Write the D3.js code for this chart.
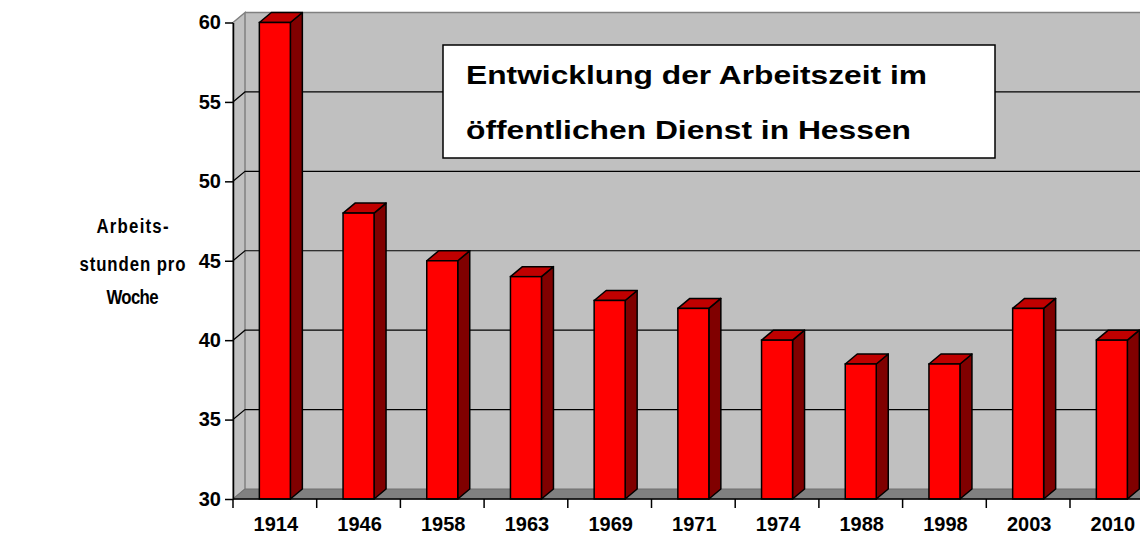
<!DOCTYPE html>
<html><head><meta charset="utf-8">
<script src="https://cdn.jsdelivr.net/npm/d3@7"></script>
<style>body{margin:0;background:#fff}svg{display:block;font-family:"Liberation Sans",Arial,sans-serif}</style>
</head><body>
<svg id="c" width="1140" height="535"></svg>
<script>
const categories = ["1914","1946","1958","1963","1969","1971","1974","1988","1998","2003","2010"];
const hours = [60,48,45,44,42.5,42,40,38.5,38.5,42,40];
const yTicks = [30,35,40,45,50,55,60];
const titleLines = ["Entwicklung der Arbeitszeit im","öffentlichen Dienst in Hessen"];
const yTitle = ["Arbeits-","stunden pro","Woche"];

const svg = d3.select("#c");
const x0 = 233, bandW = 83.7, right = 1140;
const dx = 12, dy = -10, barW = 31;
const x = d3.scaleBand().domain(categories).range([x0, x0 + bandW*categories.length]).paddingInner(0).paddingOuter(0);
const y = d3.scaleLinear().domain([30,60]).range([499,22.5]);
const yb = y(30), yt = y(60);

// back wall
svg.append("rect").attr("x",x0+dx).attr("y",yt+dy).attr("width",right-(x0+dx)).attr("height",yb-yt)
  .attr("fill","#c0c0c0");
// side wall
svg.append("path").attr("d",`M${x0},${yb}L${x0},${yt}L${x0+dx},${yt+dy}L${x0+dx},${yb+dy}Z`)
  .attr("fill","#c0c0c0").attr("stroke","#808080").attr("stroke-width",1.5);
// back wall top edge
svg.append("line").attr("x1",x0+dx).attr("x2",right).attr("y1",yt+dy).attr("y2",yt+dy).attr("stroke","#808080").attr("stroke-width",1.5);
// gridlines
yTicks.filter(v=>v>30 && v<60).forEach(v=>{
  svg.append("path").attr("d",`M${x0},${y(v)}L${x0+dx},${y(v)+dy}L${right},${y(v)+dy}`)
    .attr("fill","none").attr("stroke","#000").attr("stroke-width",1.2);
});
// floor
svg.append("path").attr("d",`M${x0},${yb}L${x0+dx},${yb+dy}L${right+20},${yb+dy}L${right+20},${yb}Z`)
  .attr("fill","#808080").attr("stroke","#707070").attr("stroke-width",1);

// bars
const g = svg.append("g");
categories.forEach((c,i)=>{
  const v = hours[i];
  const cx = x(c) + x.bandwidth()/2;
  const l = cx - barW/2, r = cx + barW/2, top = y(v);
  g.append("path").attr("d",`M${r},${yb}L${r},${top}L${r+dx},${top+dy}L${r+dx},${yb+dy}Z`)
    .attr("fill","#800000").attr("stroke","#000").attr("stroke-width",1.5).attr("stroke-linejoin","round");
  g.append("path").attr("d",`M${l},${top}L${l+dx},${top+dy}L${r+dx},${top+dy}L${r},${top}Z`)
    .attr("fill","#c00000").attr("stroke","#000").attr("stroke-width",1.5).attr("stroke-linejoin","round");
  g.append("rect").attr("x",l).attr("y",top).attr("width",barW).attr("height",yb-top)
    .attr("fill","#ff0000").attr("stroke","#000").attr("stroke-width",1.5);
});

// y axis
const yAxis = svg.append("g").attr("transform",`translate(${x0},0)`)
  .call(d3.axisLeft(y).tickValues(yTicks).tickSize(8).tickPadding(4).tickSizeOuter(0));
yAxis.select(".domain").attr("stroke","#000").attr("stroke-width",1.5);
yAxis.selectAll(".tick line").attr("stroke","#000").attr("stroke-width",1.5);
yAxis.selectAll("text").attr("font-size",20).attr("font-weight","bold").attr("fill","#000")
  .attr("font-family","Liberation Sans, Arial, sans-serif");

// x axis line and ticks
svg.append("line").attr("x1",x0).attr("x2",right).attr("y1",yb).attr("y2",yb).attr("stroke","#000").attr("stroke-width",1.5);
const bounds = categories.map(c=>x(c)).concat([x0+bandW*categories.length]);
bounds.forEach(b=>{
  if (b <= right) svg.append("line").attr("x1",b).attr("x2",b).attr("y1",yb).attr("y2",yb+9).attr("stroke","#000").attr("stroke-width",1.5);
});
svg.append("g").selectAll("text").data(categories).join("text")
  .attr("x",d=>x(d)+x.bandwidth()/2+1).attr("y",531).attr("text-anchor","middle")
  .attr("font-size",20).attr("font-weight","bold").text(d=>d);

// y title
const yTitleW = [72,106,52];
const yTitleY = [233,271,304];
const sx = 0.82;
svg.append("g").selectAll("text").data(yTitle).join("text")
  .attr("transform",(d,i)=>`translate(${132.5-yTitleW[i]/2},${yTitleY[i]}) scale(${sx},1)`)
  .attr("textLength",(d,i)=>yTitleW[i]/sx).attr("lengthAdjust","spacing")
  .attr("font-size",20.5).attr("font-weight","bold").text(d=>d);

// title box
svg.append("rect").attr("x",443).attr("y",45).attr("width",552).attr("height",113)
  .attr("fill","#fff").attr("stroke","#000").attr("stroke-width",1.5);
const titleW = [461,445];
svg.append("g").selectAll("text").data(titleLines).join("text")
  .attr("x",466).attr("y",(d,i)=>[84,139][i])
  .attr("textLength",(d,i)=>titleW[i]).attr("lengthAdjust","spacingAndGlyphs")
  .attr("font-size",26).attr("font-weight","bold").text(d=>d);
</script>
</body></html>
